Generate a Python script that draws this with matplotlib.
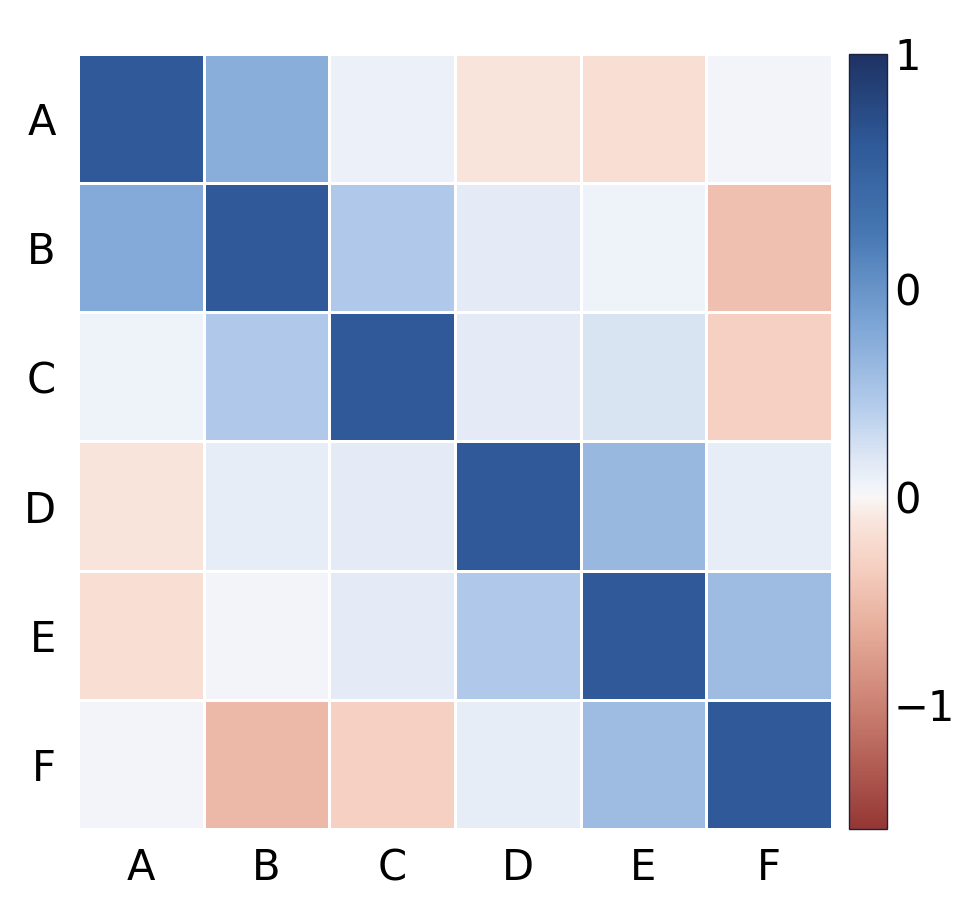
import numpy as np
import matplotlib
matplotlib.use('Agg')
import matplotlib.pyplot as plt
from matplotlib.colors import LinearSegmentedColormap, Normalize

labels = ['A', 'B', 'C', 'D', 'E', 'F']
corr = np.array([
    [0.80, 0.35, 0.04, -0.06, -0.09, 0.02],
    [0.37, 0.80, 0.22, 0.07, 0.03, -0.22],
    [0.03, 0.22, 0.80, 0.07, 0.10, -0.15],
    [-0.06, 0.06, 0.07, 0.80, 0.30, 0.06],
    [-0.09, 0.02, 0.07, 0.22, 0.80, 0.28],
    [0.02, -0.25, -0.15, 0.06, 0.28, 0.80],
])
cbar_ticks = [1.0, 0.47, 0.0, -0.47]
cbar_ticklabels = ['1', '0', '0', '\u22121']

vmin, vmax = -0.75, 1.0
anchors = [(-0.75, '#953734'), (-0.5, '#c77a6c'), (-0.3, '#e7ad9b'),
           (-0.15, '#f6d1c3'), (-0.05, '#f9e7df'), (0.0, '#f9f7f6'),
           (0.02, '#f1f4fa'), (0.08, '#e1e9f5'),
           (0.2, '#b5cdec'), (0.4, '#7aa3d4'), (0.6, '#4677b3'),
           (0.8, '#2f5998'), (1.0, '#1e3263')]
cmap = LinearSegmentedColormap.from_list(
    'corr', [((v - vmin) / (vmax - vmin), c) for v, c in anchors])
norm = Normalize(vmin=vmin, vmax=vmax)

fig = plt.figure(figsize=(9.67, 9.07), dpi=100)
ax = fig.add_axes([0.0807, 0.0860, 0.7797, 0.8545])
cax = fig.add_axes([0.878, 0.0860, 0.0393, 0.8545])

mesh = ax.pcolormesh(corr, cmap=cmap, norm=norm, edgecolors='white', linewidth=2)
ax.set_xlim(0, 6)
ax.set_ylim(6, 0)
ax.set_xticks(np.arange(6) + 0.5)
ax.set_yticks(np.arange(6) + 0.5)
ax.set_xticklabels(labels, fontsize=30)
ax.set_yticklabels(labels, fontsize=30)
ax.tick_params(axis='x', length=0, pad=13)
ax.tick_params(axis='y', length=0, pad=16)
for s in ax.spines.values():
    s.set_visible(False)

cb = fig.colorbar(mesh, cax=cax)
cb.set_ticks(cbar_ticks)
cb.set_ticklabels(cbar_ticklabels)
cb.ax.tick_params(length=0, pad=5, labelsize=30)
cb.outline.set_linewidth(1.0)
cb.outline.set_edgecolor('#1a2240')

fig.savefig('out.png', dpi=100)
